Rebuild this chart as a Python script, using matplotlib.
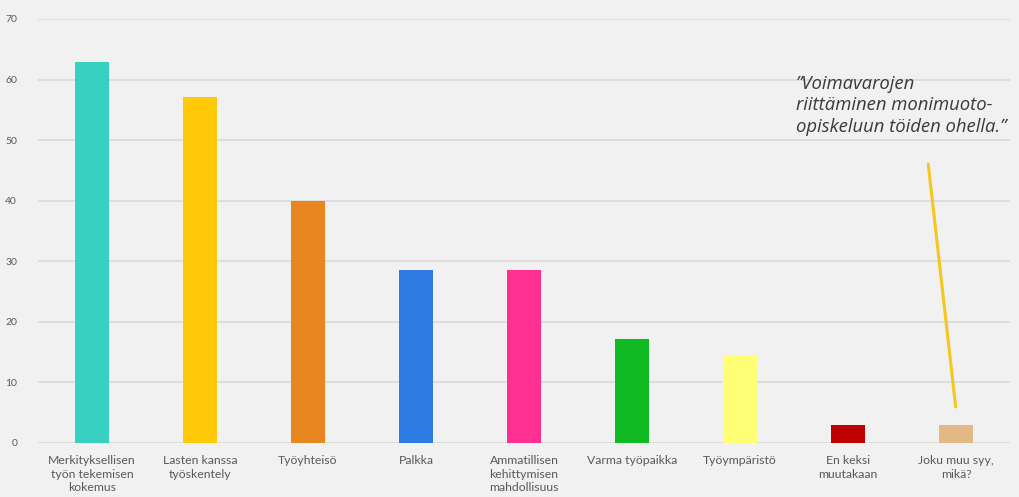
import matplotlib.pyplot as plt

categories = [
    "Merkityksellisen\ntyön tekemisen\nkokemus",
    "Lasten kanssa\ntyöskentely",
    "Työyhteisö",
    "Palkka",
    "Ammatillisen\nkehittymisen\nmahdollisuus",
    "Varma työpaikka",
    "Työympäristö",
    "En keksi\nmuutakaan",
    "Joku muu syy,\nmikä?",
]
values = [62.9, 57.1, 40.0, 28.6, 28.6, 17.1, 14.3, 2.9, 2.9]
colors = ["#37d0c1", "#ffc90a", "#e8861f", "#2c7be3", "#fe3192",
          "#10ba22", "#ffff75", "#c00000", "#e2b985"]
yticks = [0, 10, 20, 30, 40, 50, 60, 70]

quote = "”Voimavarojen\nriittäminen monimuoto-\nopiskeluun töiden ohella.”"

BG = "#f1f1f1"
plt.rcParams["font.family"] = ["Lato", "DejaVu Sans"]

fig = plt.figure(figsize=(10.19, 4.97), dpi=100, facecolor=BG)
ax = fig.add_axes([38 / 1019, 54 / 497, 972 / 1019, 424 / 497], facecolor=BG)

x = list(range(len(categories)))
ax.bar(x, values, width=0.32, color=colors, zorder=3)

ax.set_xlim(-0.5, len(categories) - 0.5)
ax.set_ylim(0, 70)
ax.set_yticks(yticks)
ax.yaxis.grid(True, color="#d9d9d9", linewidth=1.2, zorder=0)
ax.tick_params(axis="y", length=0, pad=15, labelsize=7.5, labelcolor="#595959")
ax.tick_params(axis="x", length=0, pad=9)
ax.set_xticks(x)
ax.set_xticklabels(categories, fontsize=8.8, color="#595959", va="top",
                   linespacing=1.25)
for s in ax.spines.values():
    s.set_visible(False)

# lainaus ja viiva "Joku muu syy" -palkkiin
ax.text(0.78, 0.797, quote, transform=ax.transAxes, fontsize=13.3,
        style="italic", color="#3a3a3a", ha="left", va="center",
        linespacing=1.25, family=["Open Sans", "DejaVu Sans"])
ax.annotate("", xy=(8.0, 5.5), xytext=(7.74, 46.5),
            arrowprops=dict(arrowstyle="-", color="#f4c81c", lw=2.2))

fig.savefig("out.png", dpi=100, facecolor=BG)
